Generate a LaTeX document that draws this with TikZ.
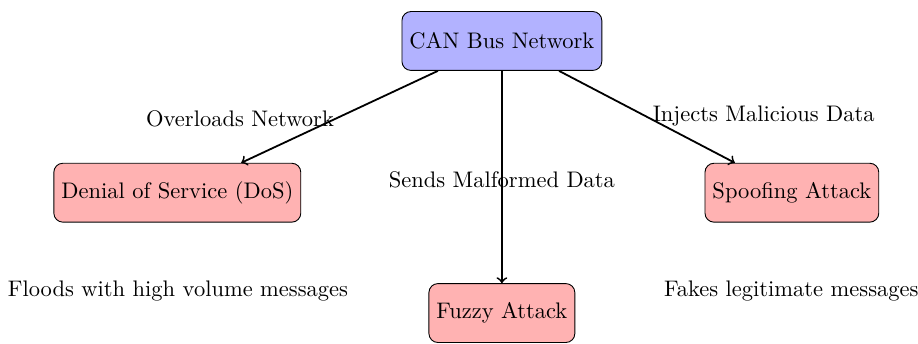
\documentclass[tikz,border=0pt]{standalone}
\usepackage{tikz}
\usepackage{amsmath}

\begin{document}
\begin{tikzpicture}
  [auto=left,
   netbox/.style={rectangle,rounded corners,draw,fill=blue!30,minimum height=0.92cm},
   attackbox/.style={rectangle,rounded corners,draw,fill=red!30,minimum height=0.92cm}]

  \useasboundingbox (-7.84,0.64) rectangle (6.5,-4.72);

  \node[netbox] (can) at (0,0) {CAN Bus Network};
  \node[attackbox] (dos) at (-5.07,-2.37) {Denial of Service (DoS)};
  \node[attackbox] (fuzzy) at (0,-4.25) {Fuzzy Attack};
  \node[attackbox] (spoof) at (4.53,-2.37) {Spoofing Attack};

  \node (l1) at (-4.09,-1.22) {Overloads Network};
  \node (l2) at (0,-2.17) {Sends Malformed Data};
  \node (l3) at (4.09,-1.17) {Injects Malicious Data};

  \node (d1) at (-5.06,-3.91) {Floods with high volume messages};
  \node (d3) at (4.52,-3.91) {Fakes legitimate messages};

  \foreach \from/\to in {can/dos,can/fuzzy,can/spoof}
    \draw[->,thick] (\from) -- (\to);
\end{tikzpicture}
\end{document}
